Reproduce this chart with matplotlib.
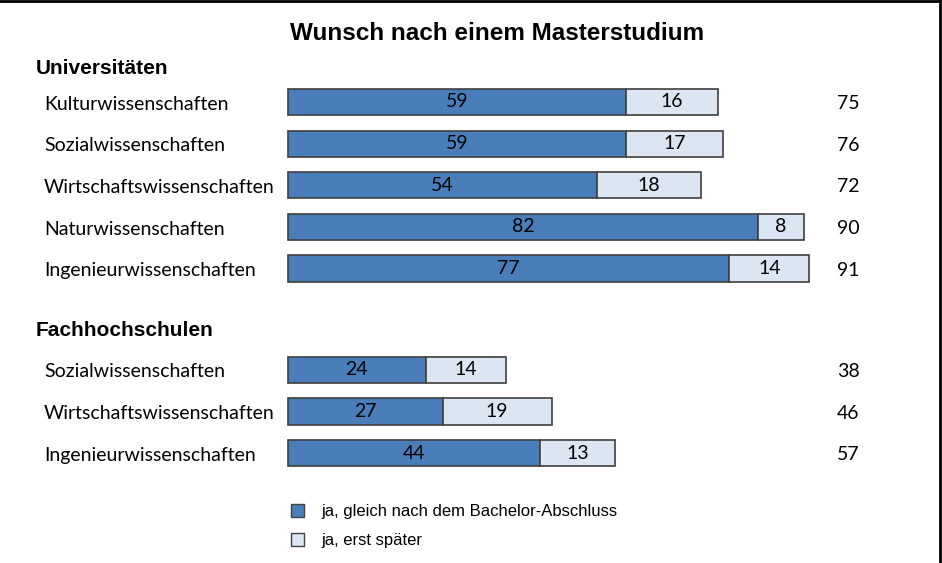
import matplotlib.pyplot as plt
import matplotlib.transforms as mtransforms
from matplotlib.lines import Line2D
from matplotlib.patches import Patch
import numpy as np

# Data
uni_labels = ['Kulturwissenschaften', 'Sozialwissenschaften', 'Wirtschaftswissenschaften',
              'Naturwissenschaften', 'Ingenieurwissenschaften']
uni_sofort = [59, 59, 54, 82, 77]
uni_spaeter = [16, 17, 18, 8, 14]
uni_gesamt = [75, 76, 72, 90, 91]

fh_labels = ['Sozialwissenschaften', 'Wirtschaftswissenschaften', 'Ingenieurwissenschaften']
fh_sofort = [24, 27, 44]
fh_spaeter = [14, 19, 13]
fh_gesamt = [38, 46, 57]

legend_labels = ['ja, gleich nach dem Bachelor-Abschluss', 'ja, erst später']

dark = '#4A7EBB'
light = '#DCE6F2'
edge = '#3F3F3F'
body_font = ['Lato', 'DejaVu Sans']
head_font = ['Liberation Sans', 'DejaVu Sans']

W, H = 942, 563
fig = plt.figure(figsize=(W / 100, H / 100), dpi=100)
ax = fig.add_axes([0, 0, 1, 1])

# pixel mapping: x=0 at 288px, 5.73 px per unit; row 0 at 102px, 41.64 px per row
px_x = 5.73
px_y = 41.64
ax.set_xlim(-288 / px_x, (W - 288) / px_x)
ax.set_ylim((H - 102) / px_y, -102 / px_y)
ax.axis('off')

y_uni = np.arange(len(uni_labels))
y_fh = np.arange(len(fh_labels)) + len(uni_labels) - 1 + 2.43

labels = uni_labels + fh_labels
sofort = np.array(uni_sofort + fh_sofort)
spaeter = np.array(uni_spaeter + fh_spaeter)
gesamt = uni_gesamt + fh_gesamt
ypos = np.concatenate([y_uni, y_fh])

bh = 0.63
ax.barh(ypos, sofort, height=bh, color=dark, edgecolor=edge, linewidth=1.2)
ax.barh(ypos, spaeter, left=sofort, height=bh, color=light, edgecolor=edge, linewidth=1.2)

fs = 14
trans = mtransforms.blended_transform_factory(fig.transFigure, ax.transData)
for y, lab, a, b, g in zip(ypos, labels, sofort, spaeter, gesamt):
    ax.text(a / 2, y, str(a), ha='center', va='center', fontsize=fs, family=body_font)
    ax.text(a + b / 2, y, str(b), ha='center', va='center', fontsize=fs, family=body_font)
    ax.text(44 / W, y + 0.05, lab, transform=trans, ha='left', va='center', fontsize=fs, family=body_font)
    ax.text(848 / W, y + 0.04, str(g), transform=trans, ha='center', va='center', fontsize=fs, family=body_font)

fig.text(497 / W, 1 - 33 / H, 'Wunsch nach einem Masterstudium', ha='center', va='center',
         fontsize=17.5, fontweight='bold', family=head_font)
fig.text(36 / W, 1 - 68 / H, 'Universitäten', ha='left', va='center',
         fontsize=15, fontweight='bold', family=head_font)
fig.text(36 / W, 1 - 330 / H, 'Fachhochschulen', ha='left', va='center',
         fontsize=15, fontweight='bold', family=head_font)

handles = [Patch(facecolor=dark, edgecolor=edge, linewidth=1.0),
           Patch(facecolor=light, edgecolor=edge, linewidth=1.0)]
fig.legend(handles, legend_labels, loc='upper left', bbox_to_anchor=(276 / W, 1 - 489 / H),
           frameon=False, handlelength=0.8, handleheight=0.8, handletextpad=1.0,
           labelspacing=0.85, prop={'family': head_font, 'size': 12})

# frame lines (top and right)
fig.add_artist(Line2D([0, 939.5 / W], [1 - 1.2 / H, 1 - 1.2 / H], transform=fig.transFigure, color='black', linewidth=2))
fig.add_artist(Line2D([939.5 / W, 939.5 / W], [0, 1], transform=fig.transFigure, color='black', linewidth=2))

fig.savefig('out.png', dpi=100)
